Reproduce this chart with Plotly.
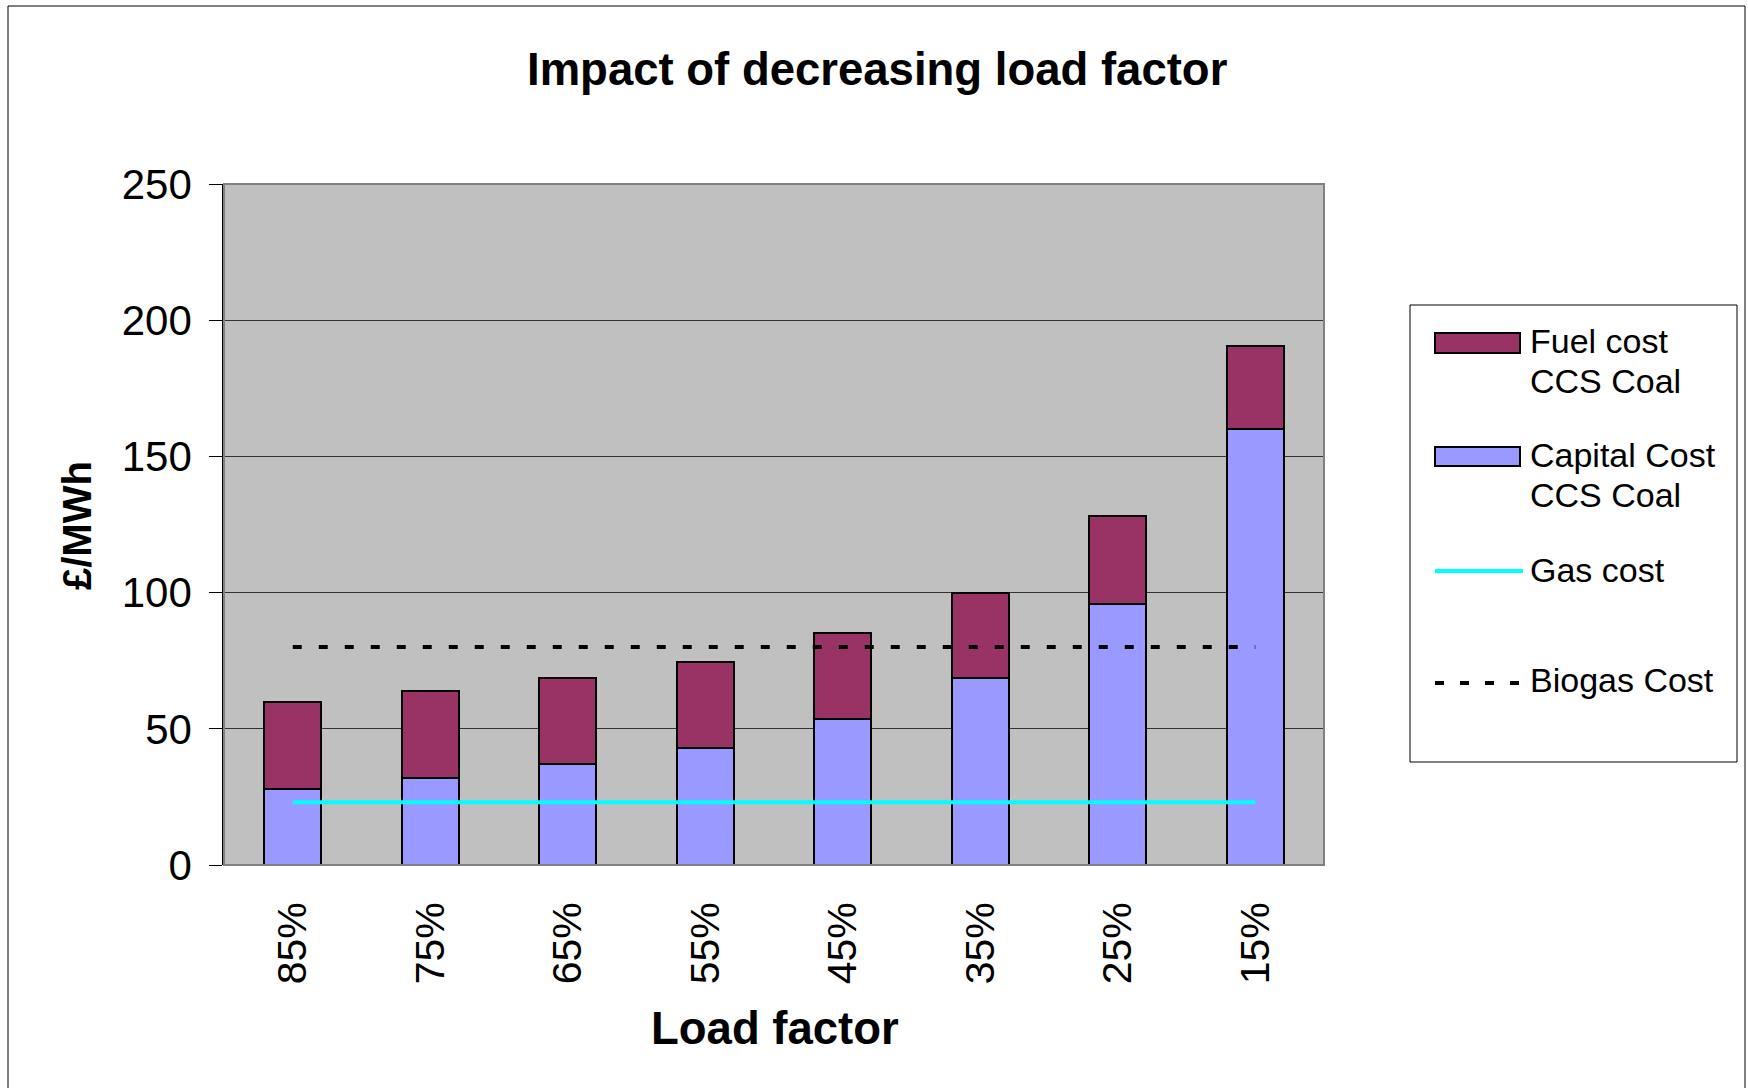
import plotly.graph_objects as go

# ---- data ----
load_factor = ["85%", "75%", "65%", "55%", "45%", "35%", "25%", "15%"]
capital_cost = [28, 32, 37, 43, 53.5, 68.5, 96, 160]
fuel_cost = [32, 32, 31.5, 31.5, 31.5, 31.5, 32, 30.5]
gas_cost = [23, 23, 23, 23, 23, 23, 23, 23]
biogas_cost = [80, 80, 80, 80, 80, 80, 80, 80]
y_ticks = [0, 50, 100, 150, 200, 250]

# ---- geometry (pixels) ----
W, H = 1748, 1088
PL, PR, PT, PB = 224, 1324, 184, 865

FONT = "Liberation Sans, Arial, Helvetica, sans-serif"
FUEL_COLOR = "#993366"
CAPITAL_COLOR = "#9999FF"
GAS_COLOR = "#00FFFF"
PLOT_BG = "#C0C0C0"


def fx(p):
    return (p - PL) / (PR - PL)


def fy(p):
    return (PB - p) / (PB - PT)


fig = go.Figure()

fig.add_trace(go.Bar(
    x=load_factor, y=capital_cost, name="Capital Cost CCS Coal",
    marker=dict(color=CAPITAL_COLOR, line=dict(color="black", width=2)),
))
fig.add_trace(go.Bar(
    x=load_factor, y=fuel_cost, name="Fuel cost CCS Coal",
    marker=dict(color=FUEL_COLOR, line=dict(color="black", width=2)),
))
fig.add_trace(go.Scatter(
    x=load_factor, y=gas_cost, name="Gas cost", mode="lines",
    line=dict(color=GAS_COLOR, width=4),
))
fig.add_trace(go.Scatter(
    x=load_factor, y=biogas_cost, name="Biogas Cost", mode="lines",
    line=dict(color="black", width=4, dash="9px,17px"),
))

shapes = []
annotations = []

# outer chart frame
shapes.append(dict(type="rect", xref="paper", yref="paper",
                   x0=fx(8), x1=fx(1745), y0=fy(1100), y1=fy(6),
                   line=dict(color="black", width=1), layer="below"))
# plot area frame
shapes.append(dict(type="rect", xref="paper", yref="paper",
                   x0=0, x1=1, y0=0, y1=1,
                   line=dict(color="#808080", width=2), layer="above"))

# legend box
shapes.append(dict(type="rect", xref="paper", yref="paper",
                   x0=fx(1410), x1=fx(1737), y0=fy(762), y1=fy(305),
                   line=dict(color="black", width=1), fillcolor="white",
                   layer="below"))

SW0, SW1 = 1435, 1520
TXT_X = 1528
LEG_FONT = dict(family=FONT, size=34, color="black")

# swatches
shapes.append(dict(type="rect", xref="paper", yref="paper",
                   x0=fx(SW0), x1=fx(SW1), y0=fy(353), y1=fy(333),
                   fillcolor=FUEL_COLOR, line=dict(color="black", width=2)))
shapes.append(dict(type="rect", xref="paper", yref="paper",
                   x0=fx(SW0), x1=fx(SW1), y0=fy(466), y1=fy(447),
                   fillcolor=CAPITAL_COLOR, line=dict(color="black", width=2)))
shapes.append(dict(type="line", xref="paper", yref="paper",
                   x0=fx(SW0), x1=fx(1523), y0=fy(571), y1=fy(571),
                   line=dict(color=GAS_COLOR, width=4)))
shapes.append(dict(type="line", xref="paper", yref="paper",
                   x0=fx(SW0), x1=fx(1520), y0=fy(683), y1=fy(683),
                   line=dict(color="black", width=4, dash="9px,16px")))

legend_lines = [
    ("Fuel cost", 341),
    ("CCS Coal", 381),
    ("Capital Cost", 455),
    ("CCS Coal", 495),
    ("Gas cost", 570),
    ("Biogas Cost", 680),
]
for text, yp in legend_lines:
    annotations.append(dict(text=text, xref="paper", yref="paper",
                            x=fx(TXT_X), y=fy(yp), xanchor="left",
                            yanchor="middle", showarrow=False, font=LEG_FONT))

# titles
annotations.append(dict(text="<b>Impact of decreasing load factor</b>",
                        xref="paper", yref="paper", x=fx(877), y=fy(69),
                        xanchor="center", yanchor="middle", showarrow=False,
                        font=dict(family=FONT, size=45.5, color="black")))
annotations.append(dict(text="<b>Load factor</b>",
                        xref="paper", yref="paper", x=fx(775), y=fy(1028),
                        xanchor="center", yanchor="middle", showarrow=False,
                        font=dict(family=FONT, size=45.5, color="black")))
annotations.append(dict(text="<b>£/MWh</b>", textangle=-90,
                        xref="paper", yref="paper", x=fx(77), y=fy(526),
                        xanchor="center", yanchor="middle", showarrow=False,
                        font=dict(family=FONT, size=40, color="black")))

fig.update_layout(
    width=W, height=H, autosize=False,
    margin=dict(l=PL, r=W - PR, t=PT, b=H - PB, pad=0),
    paper_bgcolor="white", plot_bgcolor=PLOT_BG,
    barmode="stack", bargap=0.585,
    showlegend=False,
    shapes=shapes, annotations=annotations,
    font=dict(family=FONT, color="black"),
)

fig.update_xaxes(
    type="category", categoryorder="array", categoryarray=load_factor,
    tickangle=-90, tickfont=dict(family=FONT, size=41, color="black"),
    ticks="", ticklabelstandoff=28, showgrid=False, showline=False,
    zeroline=False,
)
fig.update_yaxes(
    range=[0, 250], tickvals=y_ticks, ticktext=[str(v) for v in y_ticks],
    tickfont=dict(family=FONT, size=42, color="black"),
    ticks="outside", ticklen=13, tickwidth=1, tickcolor="black",
    ticklabelstandoff=9,
    showgrid=True, gridcolor="#333333", gridwidth=1,
    showline=True, linecolor="black", linewidth=1.5, zeroline=False,
)

fig.write_html("out.html")
